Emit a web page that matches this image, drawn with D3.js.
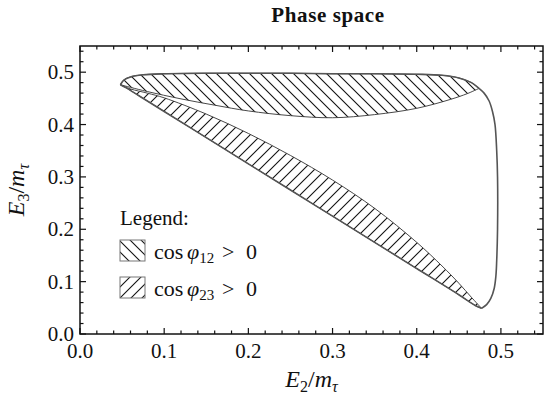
<!DOCTYPE html>
<html>
<head>
<meta charset="utf-8">
<script src="https://cdn.jsdelivr.net/npm/d3@7"></script>
<style>
  body { margin: 0; background: #fff; }
  svg text { font-family: "Liberation Serif", "DejaVu Serif", serif; fill: #111; }
</style>
</head>
<body>
<div id="chart"></div>
<script>
// phase space boundaries, [E2/m, E3/m]
const lensTop = [[0.048, 0.476], [0.052, 0.485], [0.060, 0.491], [0.075, 0.495], [0.10, 0.497], [0.15, 0.498],
  [0.20, 0.498], [0.25, 0.498], [0.30, 0.497], [0.35, 0.497], [0.40, 0.496], [0.43, 0.494], [0.45, 0.489],
  [0.465, 0.480], [0.474, 0.469]];
const lensBottom = [[0.048, 0.476], [0.06, 0.471], [0.08, 0.463], [0.12, 0.449], [0.16, 0.437], [0.20, 0.426],
  [0.25, 0.417], [0.30, 0.413], [0.35, 0.419], [0.40, 0.431], [0.44, 0.448], [0.46, 0.459], [0.474, 0.469]];
const rightEdge = [[0.474, 0.469], [0.480, 0.460], [0.486, 0.445], [0.490, 0.425], [0.493, 0.40], [0.495, 0.35],
  [0.496, 0.30], [0.496, 0.20], [0.495, 0.14], [0.494, 0.11], [0.492, 0.087], [0.488, 0.068], [0.483, 0.056],
  [0.477, 0.049]];
const bandLower = [[0.477, 0.049], [0.470, 0.054], [0.45, 0.075], [0.40, 0.125], [0.35, 0.175], [0.30, 0.225],
  [0.25, 0.275], [0.20, 0.325], [0.15, 0.375], [0.10, 0.425], [0.07, 0.455], [0.055, 0.470], [0.048, 0.476]];
const bandUpper = [[0.048, 0.476], [0.06, 0.468], [0.08, 0.460], [0.10, 0.451], [0.15, 0.420], [0.20, 0.383],
  [0.25, 0.341], [0.30, 0.294], [0.35, 0.240], [0.40, 0.175], [0.43, 0.130], [0.45, 0.097], [0.465, 0.070],
  [0.477, 0.049]];

const majorTicks = [0, 0.1, 0.2, 0.3, 0.4, 0.5];
const minorTicks = d3.range(0, 0.551, 0.02);
const legendNames = [["12", "back"], ["23", "fwd"]];

const W = 549, H = 397;
const margin = { left: 80, right: 6, top: 46, bottom: 63 };

const svg = d3.select('#chart').append('svg')
  .attr('width', W).attr('height', H);

const x = d3.scaleLinear().domain([0, 0.55]).range([margin.left, W - margin.right]);
const y = d3.scaleLinear().domain([0, 0.55]).range([H - margin.bottom, margin.top]);

// hatch patterns
const defs = svg.append('defs');
const hatch = (id, d) => {
  defs.append('pattern').attr('id', id)
    .attr('patternUnits', 'userSpaceOnUse').attr('width', 11).attr('height', 11)
    .append('path').attr('d', d)
    .attr('stroke', '#111').attr('stroke-width', 1.1).attr('fill', 'none');
};
hatch('back', 'M0,0L11,11M-2,9L2,13M9,-2L13,2');
hatch('fwd', 'M0,11L11,0M-2,2L2,-2M9,13L13,9');

const line = d3.line().x(d => x(d[0])).y(d => y(d[1])).curve(d3.curveCatmullRom.alpha(0.5));
const region = (a, b) => line(a) + line(b.slice().reverse()).replace('M', 'L') + 'Z';

// hatched regions
svg.append('path').attr('d', region(lensTop, lensBottom))
  .attr('fill', 'url(#back)').attr('stroke', '#333').attr('stroke-width', 0.9);
svg.append('path').attr('d', region(bandUpper, bandLower.slice().reverse()))
  .attr('fill', 'url(#fwd)').attr('stroke', '#333').attr('stroke-width', 0.9);

// outer boundary
[lensTop, rightEdge, bandLower].forEach(seg => {
  svg.append('path').attr('d', line(seg))
    .attr('fill', 'none').attr('stroke', '#555').attr('stroke-width', 1.6);
});

// frame and ticks
const g = svg.append('g').attr('stroke', '#111');
g.append('rect').attr('x', x(0)).attr('y', y(0.55))
  .attr('width', x(0.55) - x(0)).attr('height', y(0) - y(0.55))
  .attr('fill', 'none').attr('stroke-width', 1.5);

const tickLen = v => majorTicks.some(t => Math.abs(t - v) < 1e-6) ? 6 : 3.5;
minorTicks.forEach(v => {
  const L = tickLen(v);
  g.append('line').attr('x1', x(v)).attr('x2', x(v)).attr('y1', y(0)).attr('y2', y(0) - L).attr('stroke-width', 1.2);
  g.append('line').attr('x1', x(v)).attr('x2', x(v)).attr('y1', y(0.55)).attr('y2', y(0.55) + L).attr('stroke-width', 1.2);
  g.append('line').attr('y1', y(v)).attr('y2', y(v)).attr('x1', x(0)).attr('x2', x(0) + L).attr('stroke-width', 1.2);
  g.append('line').attr('y1', y(v)).attr('y2', y(v)).attr('x1', x(0.55)).attr('x2', x(0.55) - L).attr('stroke-width', 1.2);
});

majorTicks.forEach(v => {
  svg.append('text').attr('x', x(v)).attr('y', y(0) + 24)
    .attr('text-anchor', 'middle').attr('font-size', 21).text(v.toFixed(1));
  svg.append('text').attr('x', x(0) - 6).attr('y', y(v) + 7)
    .attr('text-anchor', 'end').attr('font-size', 21).text(v.toFixed(1));
});

// axis labels
const axisLabel = (sel, sub) => {
  sel.append('tspan').attr('font-style', 'italic').text('E');
  sel.append('tspan').attr('font-size', 16).attr('dy', 5).text(sub);
  sel.append('tspan').attr('dy', -5).text('/');
  sel.append('tspan').attr('font-style', 'italic').text('m');
  sel.append('tspan').attr('font-size', 16).attr('font-style', 'italic').attr('dy', 5).text('τ');
};
axisLabel(svg.append('text').attr('x', x(0.275)).attr('y', 387)
  .attr('text-anchor', 'middle').attr('font-size', 24), '2');
axisLabel(svg.append('text').attr('transform', `translate(24,${y(0.275)}) rotate(-90)`)
  .attr('text-anchor', 'middle').attr('font-size', 24), '3');

// title
svg.append('text').attr('x', 328).attr('y', 22)
  .attr('text-anchor', 'middle').attr('font-size', 21).attr('font-weight', 'bold')
  .attr('letter-spacing', 0.6).text('Phase space');

// legend
svg.append('text').attr('x', 120).attr('y', 225).attr('font-size', 21).text('Legend:');
legendNames.forEach((d, i) => {
  const top = 240 + i * 37;
  svg.append('rect').attr('x', 120).attr('y', top).attr('width', 25).attr('height', 21)
    .attr('fill', `url(#${d[1]})`).attr('stroke', '#777').attr('stroke-width', 1);
  const base = top + 19;
  svg.append('text').attr('x', 154).attr('y', base).attr('font-size', 22).text('cos');
  const t = svg.append('text').attr('x', 187).attr('y', base).attr('font-size', 22);
  t.append('tspan').attr('font-style', 'italic').text('φ');
  t.append('tspan').attr('font-size', 15).attr('dy', 4).text(d[0]);
  svg.append('text').attr('x', 222).attr('y', base).attr('font-size', 22).text('>');
  svg.append('text').attr('x', 246).attr('y', base).attr('font-size', 22).text('0');
});
</script>
</body>
</html>
